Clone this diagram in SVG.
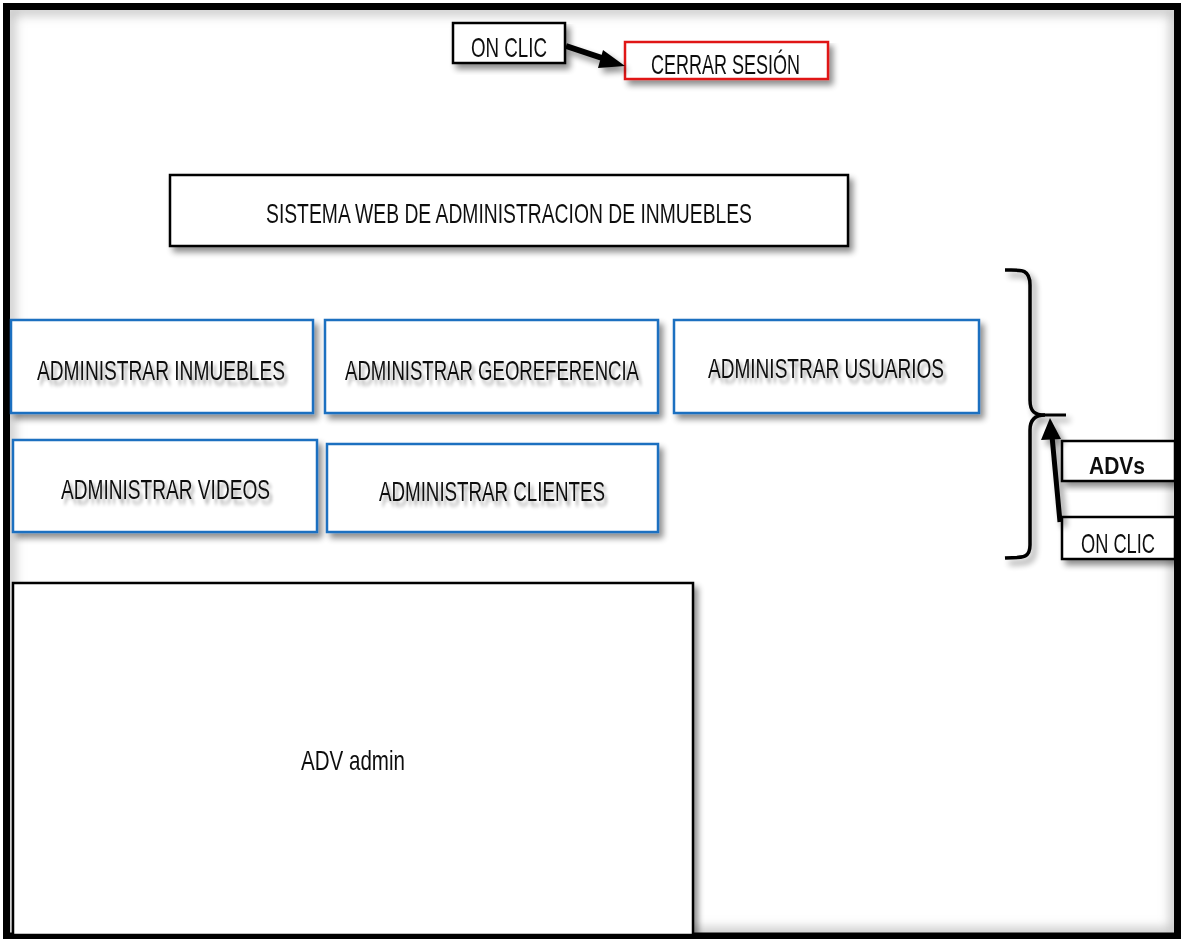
<svg xmlns="http://www.w3.org/2000/svg" width="1181" height="939" viewBox="0 0 1181 939">
  <defs>
    <filter id="shadow" x="-10%" y="-10%" width="130%" height="140%">
      <feGaussianBlur in="SourceAlpha" stdDeviation="3"/>
      <feOffset dx="4" dy="5" result="b"/>
      <feComponentTransfer><feFuncA type="linear" slope="0.45"/></feComponentTransfer>
      <feMerge><feMergeNode/><feMergeNode in="SourceGraphic"/></feMerge>
    </filter>
    <filter id="tshadow" x="-5%" y="-30%" width="115%" height="180%">
      <feGaussianBlur in="SourceAlpha" stdDeviation="1.5"/>
      <feOffset dx="3" dy="3"/>
      <feComponentTransfer><feFuncA type="linear" slope="0.35"/></feComponentTransfer>
      <feMerge><feMergeNode/><feMergeNode in="SourceGraphic"/></feMerge>
    </filter>
    <filter id="inner" x="0" y="0" width="100%" height="100%">
      <feGaussianBlur stdDeviation="6"/>
    </filter>
    <style>
      .lbl { font-family: "Liberation Sans", Arial, sans-serif; font-size: 19px; fill: #111; }
      .bold { font-weight: bold; }
      .blue { fill: #fff; stroke: #1f6fc0; stroke-width: 2.5; }
      .blk { fill: #fff; stroke: #000; stroke-width: 2.5; }
      .red { fill: #fff; stroke: #e01818; stroke-width: 2.5; }
      .conn { fill: none; stroke: #000; }
    </style>
  </defs>

  <!-- page background and outer frame with inner shading -->
  <rect x="0" y="0" width="1181" height="939" fill="#fff"/>
  <rect x="10" y="10" width="1165" height="923" fill="none" stroke="#b5b5b5" stroke-width="8" filter="url(#inner)"/>
  <rect x="6.5" y="6.5" width="1171" height="929.5" fill="none" stroke="#000" stroke-width="7"/>

  <!-- top: on-click to log out -->
  <g id="onclic-top" filter="url(#shadow)">
    <rect class="blk" x="453" y="23" width="112" height="40"/>
    <text class="lbl" transform="translate(471,57) scale(1,1.5)" textLength="76" lengthAdjust="spacingAndGlyphs">ON CLIC</text>
  </g>
  <g id="cerrar-sesion" filter="url(#shadow)">
    <rect class="red" x="625" y="42" width="203" height="37"/>
    <text class="lbl" transform="translate(651,74) scale(1,1.5)" textLength="149" lengthAdjust="spacingAndGlyphs">CERRAR SESIÓN</text>
  </g>

  <!-- system title -->
  <g id="titulo" filter="url(#shadow)">
    <rect class="blk" x="170" y="175" width="678" height="71"/>
    <text class="lbl" transform="translate(266,223) scale(1,1.5)" textLength="486" lengthAdjust="spacingAndGlyphs">SISTEMA WEB DE ADMINISTRACION DE INMUEBLES</text>
  </g>

  <!-- admin modules -->
  <g id="adm-inmuebles">
    <rect class="blue" x="11" y="320" width="302" height="93" filter="url(#shadow)"/>
    <text class="lbl" transform="translate(37,380) scale(1,1.5)" textLength="248" lengthAdjust="spacingAndGlyphs" filter="url(#tshadow)">ADMINISTRAR INMUEBLES</text>
  </g>
  <g id="adm-georeferencia">
    <rect class="blue" x="325" y="320" width="333" height="93" filter="url(#shadow)"/>
    <text class="lbl" transform="translate(345,380) scale(1,1.5)" textLength="294" lengthAdjust="spacingAndGlyphs" filter="url(#tshadow)">ADMINISTRAR GEOREFERENCIA</text>
  </g>
  <g id="adm-usuarios">
    <rect class="blue" x="674" y="320" width="305" height="93" filter="url(#shadow)"/>
    <text class="lbl" transform="translate(708,378) scale(1,1.5)" textLength="236" lengthAdjust="spacingAndGlyphs" filter="url(#tshadow)">ADMINISTRAR USUARIOS</text>
  </g>
  <g id="adm-videos">
    <rect class="blue" x="13" y="440" width="304" height="92" filter="url(#shadow)"/>
    <text class="lbl" transform="translate(61,499) scale(1,1.5)" textLength="209" lengthAdjust="spacingAndGlyphs" filter="url(#tshadow)">ADMINISTRAR VIDEOS</text>
  </g>
  <g id="adm-clientes">
    <rect class="blue" x="327" y="444" width="331" height="88" filter="url(#shadow)"/>
    <text class="lbl" transform="translate(379,501) scale(1,1.5)" textLength="226" lengthAdjust="spacingAndGlyphs" filter="url(#tshadow)">ADMINISTRAR CLIENTES</text>
  </g>

  <!-- content area -->
  <g id="adv-admin" filter="url(#shadow)">
    <rect class="blk" x="13" y="583" width="680" height="352"/>
    <text class="lbl" transform="translate(301,770) scale(1,1.5)" font-size="20.5" textLength="104" lengthAdjust="spacingAndGlyphs">ADV admin</text>
  </g>

  <!-- right side: ADVs and on-click -->
  <g id="advs" filter="url(#shadow)">
    <rect class="blk" x="1062" y="441" width="113" height="40"/>
    <text class="lbl bold" transform="translate(1089,474) scale(1,1.3)" font-size="21" textLength="56" lengthAdjust="spacingAndGlyphs">ADVs</text>
  </g>
  <g id="onclic-right" filter="url(#shadow)">
    <rect class="blk" x="1062" y="517" width="113" height="42"/>
    <text class="lbl" transform="translate(1081,553) scale(1,1.5)" font-size="18.2" textLength="74" lengthAdjust="spacingAndGlyphs">ON CLIC</text>
  </g>

  <!-- connectors -->
  <g id="connectors" filter="url(#shadow)">
    <!-- brace grouping the modules -->
    <path class="conn" stroke-width="3.5" d="M1005,270 C1020,270 1030,268 1030,285 L1030,400 C1030,412 1035,415 1045,415 C1035,415 1030,420 1030,430 L1030,545 C1030,560 1020,557 1005,558"/>
    <path class="conn" stroke-width="3" d="M1040,415 L1066,415"/>
    <!-- on-click arrow up to the brace -->
    <path class="conn" stroke-width="5" d="M1060,522 L1052,436"/>
    <path d="M1041,440 L1050,418 L1061,439 z" fill="#000"/>
    <!-- on-click arrow to log out -->
    <path class="conn" stroke-width="6" d="M566,46 L608,60"/>
    <path d="M603,50 L625,66 L598,68 z" fill="#000"/>
  </g>
</svg>
